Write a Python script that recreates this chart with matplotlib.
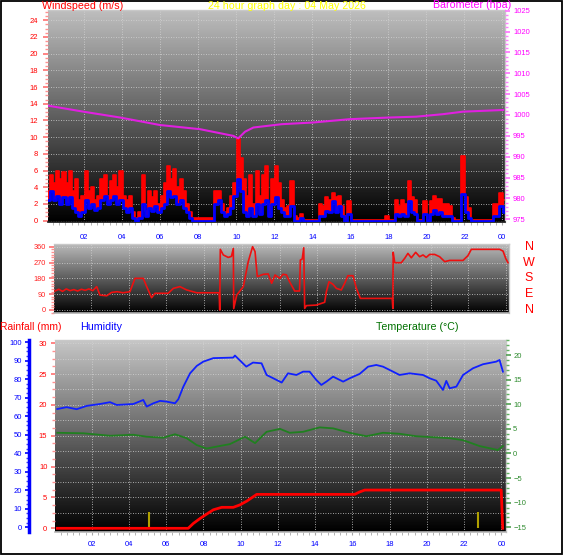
import numpy as np
import matplotlib
matplotlib.use("Agg")
import matplotlib.pyplot as plt
from matplotlib.colors import LinearSegmentedColormap
from matplotlib.patches import Rectangle
from matplotlib.ticker import MultipleLocator
from matplotlib import transforms

plt.rcParams["font.family"] = ["Liberation Sans", "DejaVu Sans"]

W, H = 566, 555

# ---- data ----
hour_ticks = [2, 4, 6, 8, 10, 12, 14, 16, 18, 20, 22, 24]
hour_labels = ["02", "04", "06", "08", "10", "12", "14", "16", "18", "20", "22", "00"]

# wind, one sample every 10 minutes from 00:06
wind_hours = 0.1 + np.arange(145) / 6.0
wind_gust = [
    3.5, 5.5, 4.5, 6.0, 5.0, 5.8,
    4.5, 6.0, 3.5, 5.0, 2.5, 3.0,
    6.0, 3.5, 4.0, 2.5, 3.0, 5.0,
    5.5, 3.0, 4.8, 5.5, 4.0, 6.0,
    3.0, 2.5, 3.0, 1.0, 0.3, 1.0,
    5.5, 1.2, 3.5, 2.8, 3.5, 2.0,
    3.0, 4.5, 6.5, 5.0, 6.2, 4.0,
    5.0, 3.5, 2.0, 1.0, 0.3, 0.3,
    0.3, 0.3, 0.3, 0.3, 0.3, 3.5,
    3.5, 2.0, 1.0, 1.5, 3.0, 4.5,
    9.8, 7.5, 5.0, 3.0, 5.5, 2.0,
    6.0, 3.0, 5.5, 6.5, 2.0, 5.0,
    6.5, 4.5, 2.5, 1.5, 1.8, 4.7,
    0.5, 0.3, 0.8, 0.1, 0.1, 0.1,
    0.1, 0.1, 2.0, 1.8, 2.8, 2.5,
    3.3, 2.8, 3.0, 1.8, 0.5, 2.4,
    0.1, 0.1, 0.1, 0.1, 0.1, 0.1,
    0.1, 0.1, 0.1, 0.1, 0.1, 0.5,
    0.1, 0.1, 2.5, 1.8, 2.5, 2.0,
    4.7, 2.8, 2.5, 0.1, 0.1, 2.4,
    0.1, 2.4, 3.0, 2.6, 2.6, 2.0,
    2.0, 1.8, 0.3, 0.1, 0.1, 7.8,
    2.8, 1.5, 0.1, 0.1, 0.1, 0.1,
    0.1, 0.1, 0.1, 2.0, 2.0, 3.3,
    2.5,
]
wind_avg = [
    2.5, 3.5, 2.5, 3.0, 2.0, 2.8,
    2.0, 2.8, 1.5, 1.0, 0.5, 1.0,
    2.5, 1.5, 2.0, 1.3, 1.5, 2.5,
    3.0, 2.0, 2.5, 3.0, 2.0, 2.5,
    1.5, 1.0, 1.5, 0.3, 0.0, 0.3,
    2.0, 0.5, 1.5, 1.2, 1.8, 1.0,
    1.5, 2.0, 3.5, 2.8, 3.0, 2.0,
    2.5, 1.5, 1.0, 0.3, 0.0, 0.0,
    0.0, 0.0, 0.0, 0.0, 0.0, 2.0,
    2.5, 1.0, 0.5, 0.8, 1.5, 3.0,
    5.0, 3.5, 1.0, 0.5, 1.5, 0.5,
    2.0, 0.8, 2.0, 2.5, 0.5, 2.0,
    2.8, 1.5, 1.0, 0.5, 0.5, 1.7,
    0.0, 0.0, 0.3, 0.0, 0.0, 0.0,
    0.0, 0.0, 0.5, 0.5, 1.2, 1.0,
    2.4, 1.0, 1.7, 0.5, 0.0, 0.8,
    0.0, 0.0, 0.0, 0.0, 0.0, 0.0,
    0.0, 0.0, 0.0, 0.0, 0.0, 0.0,
    0.0, 0.0, 0.8, 0.5, 0.8, 0.5,
    2.4, 1.0, 0.8, 0.0, 0.0, 0.8,
    0.0, 0.8, 1.3, 0.8, 1.0, 0.5,
    0.5, 0.5, 0.0, 0.0, 0.0, 3.2,
    1.0, 0.3, 0.0, 0.0, 0.0, 0.0,
    0.0, 0.0, 0.0, 0.5, 0.5, 1.7,
    1.0,
]

baro_hours = [0.14, 1.95, 3.88, 5.98, 8.09, 9.84, 10.10, 10.46, 10.90, 12.39,
              14.04, 15.97, 18.07, 19.47, 20.88, 21.93, 24.04]
baro = [1002.2, 1000.8, 999.4, 997.6, 996.6, 995.0, 994.4, 996.0, 997.0, 997.8,
        998.2, 999.0, 999.4, 999.6, 1000.2, 1000.8, 1001.2]

dir_hours = [0.10, 0.30, 0.50, 0.70, 0.90, 1.10, 1.30, 1.50, 1.70, 1.90,
             2.10, 2.31, 2.48, 2.84, 3.10, 3.40, 3.70, 4.07, 4.34, 4.78,
             4.96, 5.22, 5.40, 6.10, 6.37, 6.72, 7.08, 7.61, 8.80, 8.83,
             8.86, 9.02, 9.28, 9.45, 9.55, 9.57, 9.73, 10.08, 10.34, 10.57,
             10.70, 10.82, 11.14, 11.40, 11.58, 11.76, 12.02, 12.18, 12.36, 12.53,
             12.80, 13.06, 13.10, 13.20, 13.28, 13.33, 13.42, 13.95, 14.39, 14.48,
             14.62, 14.83, 15.01, 15.27, 15.45, 15.62, 15.89, 16.07, 16.28, 17.97,
             18.00, 18.02, 18.10, 18.45, 18.63, 18.80, 18.98, 19.21, 19.42, 19.60,
             19.77, 19.95, 20.22, 20.48, 20.75, 21.01, 21.72, 21.98, 22.16, 23.66,
             23.84, 23.98, 24.10]
wind_dir = [108, 118, 106, 120, 110, 116, 108, 118, 112, 120,
            110, 133, 85, 81, 100, 104, 98, 104, 180, 180,
            133, 70, 95, 95, 123, 133, 114, 98, 98, 0,
            345, 313, 299, 305, 350, 8, 85, 133, 275, 360,
            332, 190, 203, 205, 152, 199, 180, 203, 200, 161,
            108, 108, 284, 290, 354, 9, 25, 28, 44, 104,
            161, 146, 123, 114, 152, 195, 195, 123, 66, 66,
            9, 328, 269, 269, 294, 322, 297, 328, 303, 313,
            299, 316, 316, 303, 275, 282, 282, 309, 345, 345,
            335, 294, 269]
compass = ["N", "W", "S", "E", "N"]
compass_deg = [360, 270, 180, 90, 0]

hum_hours = [0.15, 0.65, 1.19, 1.73, 2.44, 2.98, 3.34, 4.23, 4.77, 4.95,
             5.31, 5.67, 6.02, 6.47, 6.65, 6.92, 7.28, 7.64, 7.99, 8.53,
             9.60, 9.69, 10.30, 10.66, 11.12, 11.39, 11.75, 12.20, 12.54, 12.99,
             13.35, 13.70, 14.06, 14.33, 14.60, 14.96, 15.50, 15.85, 16.39, 16.84,
             17.28, 17.64, 18.18, 18.53, 19.07, 19.79, 20.15, 20.50, 20.86, 21.04,
             21.22, 21.58, 21.94, 22.47, 23.01, 23.72, 23.90, 24.08]
humidity = [63.9, 64.9, 63.8, 65.6, 66.6, 67.6, 66.1, 66.6, 68.8, 65.2,
            67.0, 68.3, 67.9, 67.0, 69.2, 76.0, 83.2, 87.2, 89.5, 91.4,
            91.7, 92.8, 86.8, 89.0, 88.6, 82.3, 80.5, 78.2, 83.2, 82.3,
            84.1, 84.1, 79.6, 76.9, 78.7, 81.4, 78.7, 80.5, 82.9, 86.8,
            87.7, 86.8, 84.1, 82.3, 83.2, 82.3, 80.5, 79.2, 74.2, 79.1,
            75.1, 76.0, 82.3, 85.9, 88.1, 89.5, 90.4, 84.1]

temp_hours = [0.15, 1.55, 2.98, 4.23, 4.95, 5.84, 6.47, 7.10, 7.64, 8.17,
              8.71, 9.42, 10.23, 10.77, 11.39, 12.11, 12.63, 13.35, 14.24, 14.96,
              15.85, 16.75, 17.64, 18.53, 19.43, 20.33, 21.22, 21.94, 22.83, 23.81,
              24.08]
temperature = [4.2, 4.1, 3.6, 3.8, 3.4, 3.2, 3.9, 3.1, 1.7, 1.0,
               1.4, 1.9, 3.4, 2.1, 4.4, 5.0, 4.2, 4.4, 5.3, 5.1,
               4.2, 3.5, 4.2, 4.0, 3.5, 3.3, 3.1, 2.7, 1.5, 0.7,
               1.5]

rain_hours = [0.15, 7.18, 7.46, 7.82, 8.17, 8.53, 8.98, 9.60, 9.96, 10.32,
              10.86, 16.12, 16.39, 16.66, 23.99, 24.07]
rainfall = [0.0, 0.0, 0.8, 1.6, 2.3, 3.0, 3.4, 3.4, 3.8, 4.4,
            5.5, 5.5, 5.9, 6.2, 6.2, 0.0]

sun_mark_hours = [5.08, 22.74]
sun_mark_height = [2.7, 2.7]


def px_axes(fig, left, top, right, bottom):
    return fig.add_axes([left / W, 1 - bottom / H, (right - left) / W, (bottom - top) / H])


def shade(ax, top_col):
    cmap = LinearSegmentedColormap.from_list("shade", ["#000000", top_col])
    x0, x1 = ax.get_xlim()
    y0, y1 = ax.get_ylim()
    ax.imshow(np.linspace(1, 0, 200).reshape(-1, 1), cmap=cmap, aspect="auto",
              extent=(x0, x1, y0, y1), zorder=0, interpolation="bilinear")
    ax.set_xlim(x0, x1)
    ax.set_ylim(y0, y1)


def frame(ax):
    ax.spines["left"].set_visible(False)
    for s in ("top", "right"):
        ax.spines[s].set_color("#c8c8c8")
        ax.spines[s].set_linewidth(1)
    ax.spines["bottom"].set_color("#101010")
    ax.spines["bottom"].set_linewidth(1.2)


def hide_spines(ax):
    for s in ax.spines.values():
        s.set_visible(False)


grid_kw = dict(color="#d4d4d4", linestyle=(0, (1, 2)), linewidth=0.6)

fig = plt.figure(figsize=(W / 100, H / 100), dpi=100)

# ---- top panel: wind speed + barometer ----
ax1 = px_axes(fig, 48, 10, 505, 222)
ax1.set_xlim(0.09, 24.14)
ax1.set_ylim(-0.16, 25.23)
shade(ax1, "#bebebe")
frame(ax1)
ax1.fill_between(wind_hours, wind_avg, wind_gust, step="mid", color="#ff0000", lw=0, zorder=2)
ax1.step(wind_hours, wind_gust, where="mid", color="#ff0000", lw=1.2, zorder=2)
ax1.step(wind_hours, wind_avg, where="mid", color="#0000ff", lw=2.0, zorder=3)
ax1.set_yticks(range(0, 25, 2))
ax1.yaxis.set_minor_locator(MultipleLocator(0.5))
ax1.tick_params(axis="y", which="major", colors="#ff7070", labelcolor="#ff0000",
                length=3.6, width=1.2, pad=3.6, labelsize=5.5)
ax1.tick_params(axis="y", which="minor", colors="#ff9090", length=2, width=1)
ax1.set_xticks(hour_ticks)
ax1.set_xticklabels(hour_labels)
ax1.xaxis.set_minor_locator(MultipleLocator(1 / 3))
ax1.tick_params(axis="x", which="major", colors="#a8a8a8", labelcolor="#0000ff",
                length=2.5, pad=6, labelsize=5.5)
ax1.tick_params(axis="x", which="minor", colors="#a8a8a8", length=2)
ax1.grid(True, which="major", **grid_kw)

ax1b = ax1.twinx()
hide_spines(ax1b)
ax1b.set_ylim(974.35, 1025.17)
ax1b.plot(baro_hours, baro, color="#e020e0", lw=1.5, zorder=4)
ax1b.set_yticks(range(975, 1026, 5))
ax1b.yaxis.set_minor_locator(MultipleLocator(1))
ax1b.tick_params(axis="y", which="major", colors="#ff70ff", labelcolor="#ff00ff",
                 length=3.6, width=1.2, pad=2.2, labelsize=5.5)
ax1b.tick_params(axis="y", which="minor", colors="#ff80ff", length=2, width=1)

fig.text(41.7 / W, 1 - 6 / H, "Windspeed (m/s)", color="#ff0000", fontsize=7.7,
         ha="left", va="center")
fig.text(287 / W, 1 - 6 / H, "24 hour graph day : 04 May 2026", color="#ffff00",
         fontsize=7.7, ha="center", va="center")
# ends just before the 1025 tick label so the two do not collide
fig.text(511 / W, 1 - 5.5 / H, "Barometer (hpa)", color="#ff00ff", fontsize=7.7,
         ha="right", va="center")

# ---- middle panel: wind direction ----
ax2 = px_axes(fig, 54.3, 244.3, 508.7, 313.3)
ax2.set_xlim(0.064, 24.14)
ax2.set_ylim(-18.8, 373.7)
shade(ax2, "#bcbcbc")
frame(ax2)
ax2.spines["bottom"].set_color("#b0b0b0")
ax2.plot(dir_hours, wind_dir, color="#ee1010", lw=1.2, zorder=3)
ax2.set_yticks([0, 90, 180, 270, 360])
ax2.yaxis.set_minor_locator(MultipleLocator(15))
ax2.tick_params(axis="y", which="major", colors="#ff7070", labelcolor="#ff2020",
                length=3.6, width=1.2, pad=2.5, labelsize=5.3)
ax2.tick_params(axis="y", which="minor", colors="#ff9090", length=2, width=1)
ax2.set_xticks(hour_ticks)
ax2.tick_params(axis="x", which="both", length=0, labelbottom=False)
ax2.grid(True, which="major", **grid_kw)
tr = transforms.blended_transform_factory(ax2.transAxes, ax2.transData)
for lab, deg in zip(compass, compass_deg):
    ax2.text(1.0447, deg, lab, transform=tr, color="#ff0000", fontsize=9,
             ha="center", va="center", clip_on=False)

# ---- bottom panel: rain, humidity, temperature ----
ax3 = px_axes(fig, 55, 340, 505.7, 531.7)
ax3.set_xlim(0.027, 24.23)
ax3.set_ylim(-0.55, 30.52)
shade(ax3, "#c6c6c6")
frame(ax3)
ax3.spines["bottom"].set_color("#b8b8b8")
for lvl in np.arange(2.5, 30.1, 2.5):
    ax3.axhline(lvl, zorder=1, **grid_kw)
ax3.set_xticks(hour_ticks)
ax3.set_xticklabels(hour_labels)
ax3.xaxis.set_minor_locator(MultipleLocator(1 / 3))
ax3.tick_params(axis="x", which="major", colors="#a8a8a8", labelcolor="#0000ff",
                length=2.5, pad=4, labelsize=5.5)
ax3.tick_params(axis="x", which="minor", colors="#a8a8a8", length=2)
ax3.grid(True, axis="x", which="major", **grid_kw)
ax3.set_yticks(range(0, 31, 5))
ax3.yaxis.set_minor_locator(MultipleLocator(1.25))
ax3.tick_params(axis="y", which="major", colors="#ff7070", labelcolor="#ff0000",
                length=3, width=1.2, pad=2.5, labelsize=5.5)
ax3.tick_params(axis="y", which="minor", colors="#ff9090", length=2, width=1)

ax3h = ax3.twinx()
hide_spines(ax3h)
ax3h.spines["left"].set_visible(True)
ax3h.spines["left"].set_position(("outward", 18.5))
ax3h.spines["left"].set_color("#0000ff")
ax3h.spines["left"].set_linewidth(2.5)
ax3h.yaxis.set_ticks_position("left")
ax3h.yaxis.set_label_position("left")
ax3h.set_ylim(-2.4, 101.2)
ax3h.set_yticks(range(0, 101, 10))
ax3h.yaxis.set_minor_locator(MultipleLocator(2.5))
ax3h.tick_params(axis="y", which="major", colors="#0000ff", labelcolor="#0000ff",
                 length=3, width=1.2, pad=2.4, labelsize=5.5)
ax3h.tick_params(axis="y", which="minor", colors="#4040ff", length=2, width=1)
ax3h.plot(hum_hours, humidity, color="#1020ff", lw=1.3, zorder=3)

ax3t = ax3.twinx()
hide_spines(ax3t)
ax3t.set_ylim(-15.89, 23.05)
ax3t.set_yticks(range(-15, 21, 5))
ax3t.yaxis.set_minor_locator(MultipleLocator(1))
ax3t.tick_params(axis="y", which="major", colors="#50a050", labelcolor="#2e8b2e",
                 length=3.6, width=1.2, pad=1.8, labelsize=5.5)
ax3t.tick_params(axis="y", which="minor", colors="#60b060", length=2, width=1)
ax3t.plot(temp_hours, temperature, color="#208020", lw=1.3, zorder=3)

ax3r = ax3.twinx()
hide_spines(ax3r)
ax3r.set_ylim(-0.55, 30.52)
ax3r.set_yticks([])
ax3r.vlines(sun_mark_hours, 0, sun_mark_height, color="#b0a000", lw=1.5, zorder=2)
ax3r.plot(rain_hours, rainfall, color="#ff0000", lw=2, zorder=4)

fig.text(0.5 / W, 1 - 326.5 / H, "Rainfall (mm)", color="#ff0000", fontsize=7.4,
         ha="left", va="center")
fig.text(80 / W, 1 - 326.5 / H, "Humidity", color="#0000ff", fontsize=7.7,
         ha="left", va="center")
fig.text(417.7 / W, 1 - 326.5 / H, "Temperature (\u00b0C)", color="#007000", fontsize=7.7,
         ha="center", va="center")

fig.add_artist(Rectangle((0.5 / W, 1 - 553.5 / H), 561 / W, 553 / H,
                         transform=fig.transFigure, fill=False, ec="black", lw=1.3))

fig.savefig("out.png", dpi=100)
